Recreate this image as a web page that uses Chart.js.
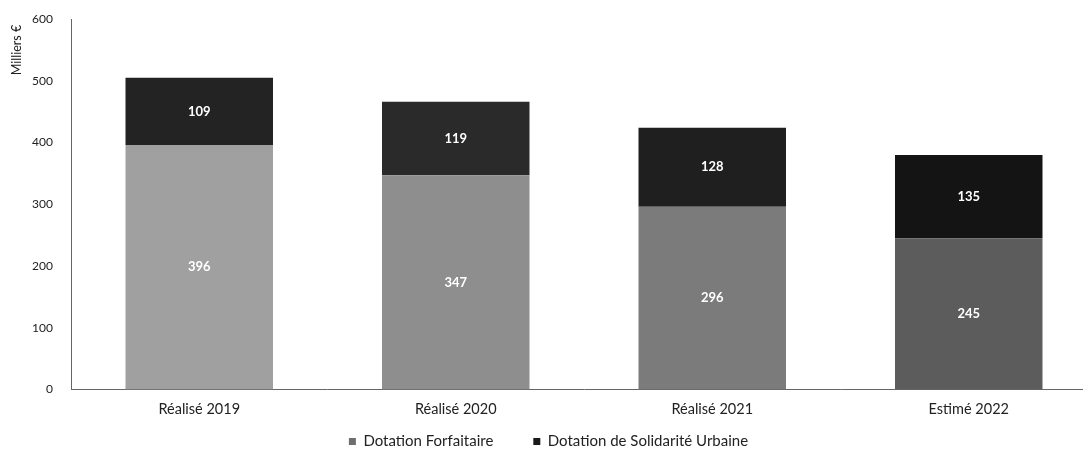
<!DOCTYPE html>
<html>
<head>
<meta charset="utf-8">
<script src="https://cdn.jsdelivr.net/npm/chart.js@4/dist/chart.umd.min.js"></script>
<style>
  html, body { margin: 0; padding: 0; background: #fff; overflow: hidden; }
  #wrap { position: absolute; left: 0; top: 0; width: 1097px; height: 452px; }
</style>
</head>
<body>
<div id="wrap"><canvas id="c" width="1097" height="452"></canvas></div>
<script>
// Dotations de l'État, en milliers d'euros
const categories = ['Réalisé 2019', 'Réalisé 2020', 'Réalisé 2021', 'Estimé 2022'];
const dotationForfaitaire = [396, 347, 296, 245];
const dotationSolidarite = [109, 119, 128, 135];
const yTicks = [0, 100, 200, 300, 400, 500, 600];
const yTitle = 'Milliers €';

const FONT = 'Lato, "Open Sans", sans-serif';
const LEGEND_PAD = 40;

// Values written in white inside each stacked segment
const segmentLabels = {
  id: 'segmentLabels',
  afterDatasetsDraw(chart) {
    const ctx = chart.ctx;
    ctx.save();
    ctx.fillStyle = '#ffffff';
    ctx.font = 'bold 13px ' + FONT;
    ctx.textAlign = 'center';
    ctx.textBaseline = 'middle';
    chart.data.datasets.forEach((ds, i) => {
      chart.getDatasetMeta(i).data.forEach((bar, j) => {
        const mid = (bar.y + bar.base) / 2;
        ctx.fillText(String(ds.data[j]), bar.x, mid);
      });
    });
    ctx.restore();
  }
};

// Rotated unit label at the top of the value axis
const unitTitle = {
  id: 'unitTitle',
  afterDraw(chart) {
    const ctx = chart.ctx;
    ctx.save();
    ctx.translate(17, 50);
    ctx.rotate(-Math.PI / 2);
    ctx.fillStyle = '#222';
    ctx.font = '12.5px ' + FONT;
    ctx.textAlign = 'center';
    ctx.textBaseline = 'middle';
    ctx.fillText(yTitle, 0, 0);
    ctx.restore();
  }
};

// Places the legend row just below the category labels
const legendPlacement = {
  id: 'legendPlacement',
  afterLayout(chart) {
    const l = chart.legend;
    if (!l) return;
    const h = l.bottom - l.top;
    l.top = 440 - LEGEND_PAD - 6;
    l.bottom = l.top + h;
  }
};

new Chart(document.getElementById('c'), {
  type: 'bar',
  data: {
    labels: categories,
    datasets: [
      {
        label: 'Dotation Forfaitaire',
        data: dotationForfaitaire,
        backgroundColor: ['#a0a0a0', '#8e8e8e', '#7b7b7b', '#5c5c5c'],
        borderWidth: 0
      },
      {
        label: 'Dotation de Solidarité Urbaine',
        data: dotationSolidarite,
        backgroundColor: ['#232323', '#2a2a2a', '#1f1f1f', '#141414'],
        borderWidth: 0
      }
    ]
  },
  options: {
    responsive: false,
    animation: false,
    layout: { padding: { top: 19, right: 0, left: 0, bottom: -42 } },
    datasets: {
      bar: { categoryPercentage: 1, barPercentage: 0.575 }
    },
    plugins: {
      tooltip: { enabled: false },
      legend: {
        position: 'bottom',
        labels: {
          font: { family: FONT, size: 15 },
          color: '#222',
          boxWidth: 7,
          boxHeight: 7,
          padding: LEGEND_PAD,
          generateLabels(chart) {
            const cols = ['#6e6e6e', '#1a1a1a'];
            return chart.data.datasets.map((ds, i) => ({
              text: ds.label,
              fillStyle: cols[i],
              strokeStyle: cols[i],
              lineWidth: 0,
              datasetIndex: i,
              hidden: false,
              fontColor: '#222'
            }));
          }
        }
      }
    },
    scales: {
      x: {
        stacked: true,
        grid: { display: false, drawTicks: false },
        border: { display: true, color: '#666', width: 1 },
        ticks: { font: { family: FONT, size: 14.5 }, color: '#222', padding: 11 }
      },
      y: {
        stacked: true,
        min: 0,
        max: 600,
        afterBuildTicks(axis) { axis.ticks = yTicks.map(v => ({ value: v })); },
        afterFit(axis) { axis.width = 71; axis.paddingTop = 0; axis.paddingBottom = 0; },
        grid: { display: false, drawTicks: false },
        border: { display: true, color: '#666', width: 1 },
        ticks: { font: { family: FONT, size: 12 }, color: '#222', padding: 18 }
      }
    }
  },
  plugins: [segmentLabels, unitTitle, legendPlacement]
});
</script>
</body>
</html>
